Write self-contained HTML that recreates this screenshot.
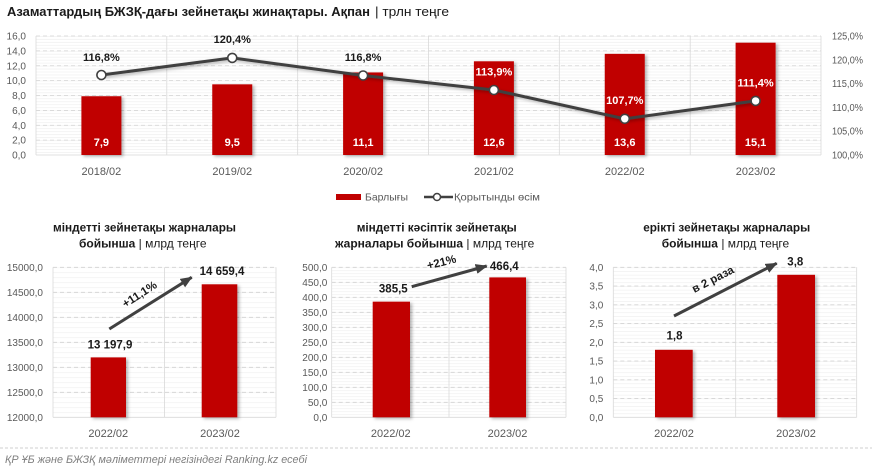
<!DOCTYPE html>
<html><head><meta charset="utf-8"><style>
html,body{margin:0;padding:0;background:#fff;}
svg{display:block;}
text{font-family:"Liberation Sans","DejaVu Sans",sans-serif;}
</style></head><body>
<svg width="872" height="472" viewBox="0 0 872 472" xmlns="http://www.w3.org/2000/svg">
<defs>
<filter id="sh" x="-20%" y="-10%" width="150%" height="130%"><feDropShadow dx="2" dy="1.5" stdDeviation="1.5" flood-color="#000" flood-opacity="0.3"/></filter>
<pattern id="p1" patternUnits="userSpaceOnUse" x="0" y="155" width="20" height="2.975"><line x1="0" y1="0.3" x2="20" y2="0.3" stroke="#ededed" stroke-width="0.6"/></pattern>
<pattern id="p2" patternUnits="userSpaceOnUse" x="0" y="417.3" width="20" height="5"><line x1="0" y1="0.3" x2="20" y2="0.3" stroke="#ededed" stroke-width="0.6"/></pattern>
<pattern id="p3" patternUnits="userSpaceOnUse" x="0" y="417.3" width="20" height="3"><line x1="0" y1="0.3" x2="20" y2="0.3" stroke="#ededed" stroke-width="0.6"/></pattern>
<pattern id="p4" patternUnits="userSpaceOnUse" x="0" y="417.3" width="20" height="3.75"><line x1="0" y1="0.3" x2="20" y2="0.3" stroke="#ededed" stroke-width="0.6"/></pattern>
<marker id="ah" markerUnits="userSpaceOnUse" markerWidth="14" markerHeight="12" refX="11" refY="5" orient="auto"><path d="M0,0 L12,5 L0,10 Z" fill="#404040"/></marker>
</defs>

<!-- TITLE -->
<text x="7" y="16" font-size="13" font-weight="bold" fill="#1a1a1a" textLength="363" lengthAdjust="spacingAndGlyphs">Азаматтардың БЖЗҚ-дағы зейнетақы жинақтары. Ақпан</text>
<text x="375" y="16" font-size="13" fill="#1a1a1a" textLength="74" lengthAdjust="spacingAndGlyphs">| трлн теңге</text>

<!-- TOP CHART grid -->
<rect x="36" y="36" width="785" height="119" fill="url(#p1)"/>
<g stroke="#d3d3d3" stroke-width="0.8" stroke-dasharray="4 3">
<line x1="36" y1="140.1" x2="821" y2="140.1"/><line x1="36" y1="125.25" x2="821" y2="125.25"/>
<line x1="36" y1="110.4" x2="821" y2="110.4"/><line x1="36" y1="95.5" x2="821" y2="95.5"/>
<line x1="36" y1="80.6" x2="821" y2="80.6"/><line x1="36" y1="65.75" x2="821" y2="65.75"/>
<line x1="36" y1="50.9" x2="821" y2="50.9"/><line x1="36" y1="36" x2="821" y2="36"/>
</g>
<g stroke="#d9d9d9" stroke-width="0.8">
<line x1="36" y1="155" x2="821" y2="155"/>
<line x1="36" y1="36" x2="36" y2="155"/><line x1="166.8" y1="36" x2="166.8" y2="155"/>
<line x1="297.7" y1="36" x2="297.7" y2="155"/><line x1="428.5" y1="36" x2="428.5" y2="155"/>
<line x1="559.3" y1="36" x2="559.3" y2="155"/><line x1="690.2" y1="36" x2="690.2" y2="155"/>
<line x1="821" y1="36" x2="821" y2="155"/>
</g>
<!-- left axis labels -->
<g font-size="10" fill="#595959" text-anchor="end">
<text x="26" y="158.5">0,0</text><text x="26" y="143.6">2,0</text><text x="26" y="128.75">4,0</text>
<text x="26" y="113.9">6,0</text><text x="26" y="99">8,0</text><text x="26" y="84.1">10,0</text>
<text x="26" y="69.25">12,0</text><text x="26" y="54.4">14,0</text><text x="26" y="39.5">16,0</text>
</g>
<!-- right axis labels -->
<g font-size="10" fill="#595959">
<text x="832" y="158.5" textLength="31" lengthAdjust="spacingAndGlyphs">100,0%</text>
<text x="832" y="134.7" textLength="31" lengthAdjust="spacingAndGlyphs">105,0%</text>
<text x="832" y="110.9" textLength="31" lengthAdjust="spacingAndGlyphs">110,0%</text>
<text x="832" y="87.1" textLength="31" lengthAdjust="spacingAndGlyphs">115,0%</text>
<text x="832" y="63.3" textLength="31" lengthAdjust="spacingAndGlyphs">120,0%</text>
<text x="832" y="39.5" textLength="31" lengthAdjust="spacingAndGlyphs">125,0%</text>
</g>
<!-- bars -->
<g fill="#C00000" filter="url(#sh)">
<rect x="81.4" y="96.24" width="40" height="58.76"/>
<rect x="212.25" y="84.34" width="40" height="70.66"/>
<rect x="343.1" y="72.44" width="40" height="82.56"/>
<rect x="473.9" y="61.29" width="40" height="93.71"/>
<rect x="604.75" y="53.85" width="40" height="101.15"/>
<rect x="735.6" y="42.69" width="40" height="112.31"/>
</g>
<g font-size="11" font-weight="bold" fill="#fff" text-anchor="middle">
<text x="101.4" y="146">7,9</text><text x="232.25" y="146">9,5</text><text x="363.1" y="146">11,1</text>
<text x="493.9" y="146">12,6</text><text x="624.75" y="146">13,6</text><text x="755.6" y="146">15,1</text>
</g>
<!-- line -->
<polyline points="101.4,75 232.25,57.9 363.1,75.5 493.9,90 624.75,118.8 755.6,100.9" fill="none" stroke="#404040" stroke-width="3" filter="url(#sh)"/>
<g fill="#fff" stroke="#404040" stroke-width="1.6">
<circle cx="101.4" cy="75" r="4.5"/><circle cx="232.25" cy="57.9" r="4.5"/><circle cx="363.1" cy="75.5" r="4.5"/>
<circle cx="493.9" cy="90" r="4.5"/><circle cx="624.75" cy="118.8" r="4.5"/><circle cx="755.6" cy="100.9" r="4.5"/>
</g>
<g font-size="11" font-weight="bold" text-anchor="middle">
<text x="101.4" y="61" fill="#1a1a1a">116,8%</text>
<text x="232.25" y="43" fill="#1a1a1a">120,4%</text>
<text x="363.1" y="61" fill="#1a1a1a">116,8%</text>
<text x="493.9" y="75.7" fill="#fff">113,9%</text>
<text x="624.75" y="104" fill="#fff">107,7%</text>
<text x="755.6" y="86.3" fill="#fff">111,4%</text>
</g>
<!-- x labels -->
<g font-size="11" fill="#595959" text-anchor="middle">
<text x="101.4" y="175">2018/02</text><text x="232.25" y="175">2019/02</text><text x="363.1" y="175">2020/02</text>
<text x="493.9" y="175">2021/02</text><text x="624.75" y="175">2022/02</text><text x="755.6" y="175">2023/02</text>
</g>
<!-- legend -->
<rect x="336" y="194" width="25" height="6" fill="#C00000"/>
<text x="365" y="200.5" font-size="10.5" fill="#595959" textLength="43" lengthAdjust="spacingAndGlyphs">Барлығы</text>
<line x1="424" y1="197" x2="453" y2="197" stroke="#404040" stroke-width="2.5"/>
<circle cx="437" cy="197" r="3.5" fill="#fff" stroke="#404040" stroke-width="1.5"/>
<text x="454" y="200.5" font-size="10.5" fill="#595959" textLength="86" lengthAdjust="spacingAndGlyphs">Қорытынды өсім</text>

<!-- ===== CHART 1 ===== -->
<text x="144.5" y="231.5" font-size="12" font-weight="bold" fill="#1a1a1a" text-anchor="middle" textLength="183" lengthAdjust="spacingAndGlyphs">міндетті зейнетақы жарналары</text>
<text x="79" y="247.5" font-size="12" fill="#1a1a1a"><tspan font-weight="bold">бойынша</tspan> | млрд теңге</text>
<rect x="53" y="267.3" width="223" height="150" fill="url(#p2)"/>
<g stroke="#d3d3d3" stroke-width="0.8" stroke-dasharray="4 3">
<line x1="53" y1="267.3" x2="276" y2="267.3"/><line x1="53" y1="292.3" x2="276" y2="292.3"/>
<line x1="53" y1="317.3" x2="276" y2="317.3"/><line x1="53" y1="342.3" x2="276" y2="342.3"/>
<line x1="53" y1="367.3" x2="276" y2="367.3"/><line x1="53" y1="392.3" x2="276" y2="392.3"/>
</g>
<g stroke="#d9d9d9" stroke-width="0.8">
<line x1="53" y1="417.3" x2="276" y2="417.3"/><line x1="53" y1="267.3" x2="53" y2="417.3"/>
<line x1="164.5" y1="267.3" x2="164.5" y2="417.3"/><line x1="276" y1="267.3" x2="276" y2="417.3"/>
</g>
<g font-size="10" fill="#595959" text-anchor="end">
<text x="43" y="270.8">15000,0</text><text x="43" y="295.8">14500,0</text><text x="43" y="320.8">14000,0</text>
<text x="43" y="345.8">13500,0</text><text x="43" y="370.8">13000,0</text><text x="43" y="395.8">12500,0</text>
<text x="43" y="420.8">12000,0</text>
</g>
<g fill="#C00000" filter="url(#sh)">
<rect x="90.7" y="357.4" width="35.3" height="59.9"/>
<rect x="201.7" y="284.3" width="35.6" height="133"/>
</g>
<g font-size="11.5" font-weight="bold" fill="#1a1a1a" text-anchor="middle">
<text x="110" y="348.5">13 197,9</text><text x="222" y="275">14 659,4</text>
</g>
<line x1="109.3" y1="329" x2="191.7" y2="277.3" stroke="#404040" stroke-width="3" marker-end="url(#ah)"/>
<text x="140" y="298" font-size="11.5" font-weight="bold" fill="#1a1a1a" text-anchor="middle" transform="rotate(-33 140 295)">+11,1%</text>
<g font-size="11" fill="#595959" text-anchor="middle">
<text x="108.3" y="437">2022/02</text><text x="220" y="437">2023/02</text>
</g>

<!-- ===== CHART 2 ===== -->
<text x="436.7" y="231.5" font-size="12" font-weight="bold" fill="#1a1a1a" text-anchor="middle" textLength="160" lengthAdjust="spacingAndGlyphs">міндетті кәсіптік зейнетақы</text>
<text x="335" y="247.5" font-size="12" fill="#1a1a1a"><tspan font-weight="bold">жарналары бойынша</tspan> | млрд теңге</text>
<rect x="331.7" y="267.3" width="234.3" height="150" fill="url(#p3)"/>
<g stroke="#d3d3d3" stroke-width="0.8" stroke-dasharray="4 3">
<line x1="331.7" y1="267.3" x2="566" y2="267.3"/><line x1="331.7" y1="282.3" x2="566" y2="282.3"/>
<line x1="331.7" y1="297.3" x2="566" y2="297.3"/><line x1="331.7" y1="312.3" x2="566" y2="312.3"/>
<line x1="331.7" y1="327.3" x2="566" y2="327.3"/><line x1="331.7" y1="342.3" x2="566" y2="342.3"/>
<line x1="331.7" y1="357.3" x2="566" y2="357.3"/><line x1="331.7" y1="372.3" x2="566" y2="372.3"/>
<line x1="331.7" y1="387.3" x2="566" y2="387.3"/><line x1="331.7" y1="402.3" x2="566" y2="402.3"/>
</g>
<g stroke="#d9d9d9" stroke-width="0.8">
<line x1="331.7" y1="417.3" x2="566" y2="417.3"/><line x1="331.7" y1="267.3" x2="331.7" y2="417.3"/>
<line x1="449" y1="267.3" x2="449" y2="417.3"/><line x1="566" y1="267.3" x2="566" y2="417.3"/>
</g>
<g font-size="10" fill="#595959" text-anchor="end">
<text x="327.3" y="270.8">500,0</text><text x="327.3" y="285.8">450,0</text><text x="327.3" y="300.8">400,0</text>
<text x="327.3" y="315.8">350,0</text><text x="327.3" y="330.8">300,0</text><text x="327.3" y="345.8">250,0</text>
<text x="327.3" y="360.8">200,0</text><text x="327.3" y="375.8">150,0</text><text x="327.3" y="390.8">100,0</text>
<text x="327.3" y="405.8">50,0</text><text x="327.3" y="420.8">0,0</text>
</g>
<g fill="#C00000" filter="url(#sh)">
<rect x="372.7" y="301.65" width="37.3" height="115.65"/>
<rect x="489.3" y="277.4" width="36.7" height="139.9"/>
</g>
<g font-size="11.5" font-weight="bold" fill="#1a1a1a" text-anchor="middle">
<text x="393.3" y="292.3">385,5</text><text x="504.3" y="270">466,4</text>
</g>
<line x1="411.7" y1="286.7" x2="486.7" y2="266" stroke="#404040" stroke-width="3" marker-end="url(#ah)"/>
<text x="441.7" y="266" font-size="11.5" font-weight="bold" fill="#1a1a1a" text-anchor="middle" transform="rotate(-14 441.7 263)">+21%</text>
<g font-size="11" fill="#595959" text-anchor="middle">
<text x="390.8" y="437">2022/02</text><text x="507.5" y="437">2023/02</text>
</g>

<!-- ===== CHART 3 ===== -->
<text x="726.7" y="231.5" font-size="12" font-weight="bold" fill="#1a1a1a" text-anchor="middle" textLength="167" lengthAdjust="spacingAndGlyphs">ерікті зейнетақы жарналары</text>
<text x="661.7" y="247.5" font-size="12" fill="#1a1a1a"><tspan font-weight="bold">бойынша</tspan> | млрд теңге</text>
<rect x="613.3" y="267.3" width="243.4" height="150" fill="url(#p4)"/>
<g stroke="#d3d3d3" stroke-width="0.8" stroke-dasharray="4 3">
<line x1="613.3" y1="267.3" x2="856.7" y2="267.3"/><line x1="613.3" y1="286.05" x2="856.7" y2="286.05"/>
<line x1="613.3" y1="304.8" x2="856.7" y2="304.8"/><line x1="613.3" y1="323.55" x2="856.7" y2="323.55"/>
<line x1="613.3" y1="342.3" x2="856.7" y2="342.3"/><line x1="613.3" y1="361.05" x2="856.7" y2="361.05"/>
<line x1="613.3" y1="379.8" x2="856.7" y2="379.8"/><line x1="613.3" y1="398.55" x2="856.7" y2="398.55"/>
</g>
<g stroke="#d9d9d9" stroke-width="0.8">
<line x1="613.3" y1="417.3" x2="856.7" y2="417.3"/><line x1="613.3" y1="267.3" x2="613.3" y2="417.3"/>
<line x1="735.7" y1="267.3" x2="735.7" y2="417.3"/><line x1="856.7" y1="267.3" x2="856.7" y2="417.3"/>
</g>
<g font-size="10" fill="#595959" text-anchor="end">
<text x="603.3" y="270.8">4,0</text><text x="603.3" y="289.55">3,5</text><text x="603.3" y="308.3">3,0</text>
<text x="603.3" y="327.05">2,5</text><text x="603.3" y="345.8">2,0</text><text x="603.3" y="364.55">1,5</text>
<text x="603.3" y="383.3">1,0</text><text x="603.3" y="402.05">0,5</text><text x="603.3" y="420.8">0,0</text>
</g>
<g fill="#C00000" filter="url(#sh)">
<rect x="655" y="349.8" width="37.7" height="67.5"/>
<rect x="777.3" y="274.8" width="37.7" height="142.5"/>
</g>
<g font-size="11.5" font-weight="bold" fill="#1a1a1a" text-anchor="middle">
<text x="674.5" y="339.7">1,8</text><text x="795.3" y="265.7">3,8</text>
</g>
<line x1="674" y1="316" x2="776.7" y2="263.3" stroke="#404040" stroke-width="3" marker-end="url(#ah)"/>
<text x="713.3" y="283" font-size="11.5" font-weight="bold" fill="#1a1a1a" text-anchor="middle" transform="rotate(-27 713.3 280)">в 2 раза</text>
<g font-size="11" fill="#595959" text-anchor="middle">
<text x="674" y="437">2022/02</text><text x="796" y="437">2023/02</text>
</g>

<!-- FOOTER -->
<line x1="0" y1="448" x2="872" y2="448" stroke="#c0c0c0" stroke-width="0.8" stroke-dasharray="3 2"/>
<text x="5" y="463" font-size="11" font-style="italic" fill="#7f7f7f" textLength="302" lengthAdjust="spacingAndGlyphs">ҚР ҰБ және БЖЗҚ мәліметтері негізіндегі Ranking.kz есебі</text>
</svg>
</body></html>
